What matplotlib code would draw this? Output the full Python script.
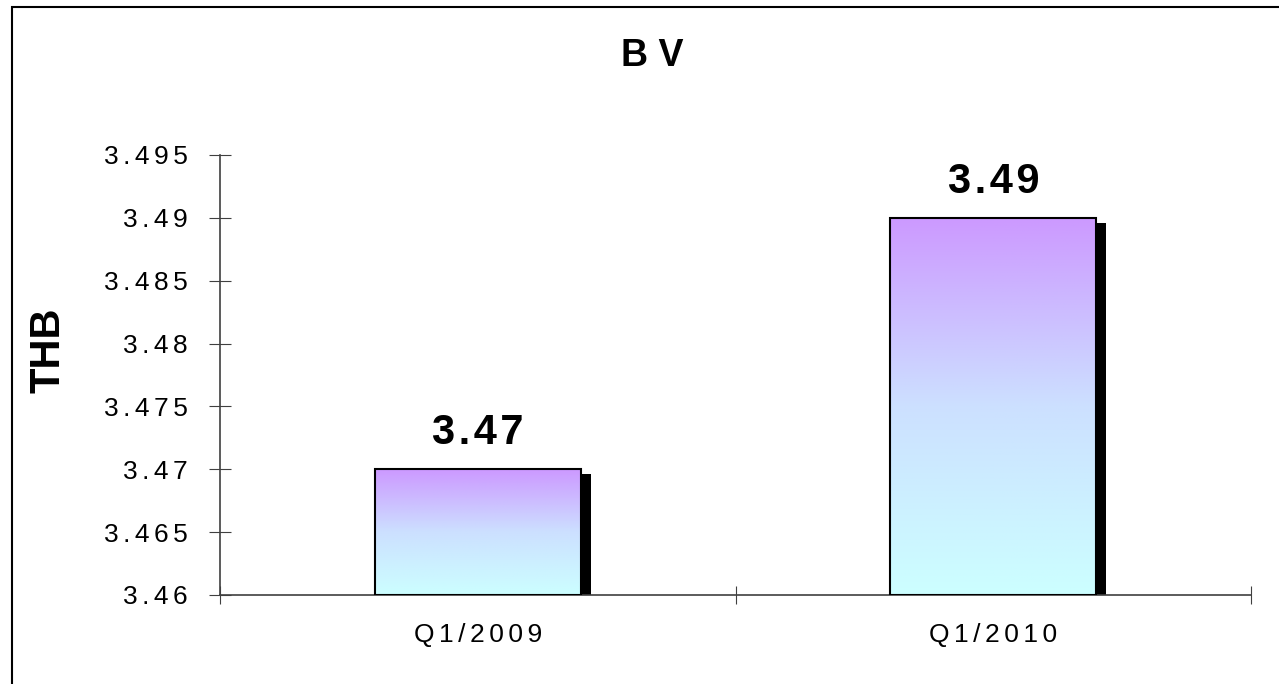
import numpy as np
import matplotlib.pyplot as plt
import matplotlib.transforms as mtransforms
from matplotlib.colors import LinearSegmentedColormap
from matplotlib.patches import Rectangle

plt.rcParams['font.family'] = ['Liberation Sans', 'DejaVu Sans']

categories = ['Q1/2009', 'Q1/2010']
values = [3.47, 3.49]
value_labels = ['3.47', '3.49']
y_ticks = [3.46, 3.465, 3.47, 3.475, 3.48, 3.485, 3.49, 3.495]
y_tick_labels = ['3.46', '3.465', '3.47', '3.475', '3.48', '3.485', '3.49', '3.495']

ymin, ymax = 3.46, 3.495
bar_w = 0.40


def spaced(s, sep='\u200a\u200a'):
    # old office charts draw text with a little letter spacing
    return sep.join(s)


fig = plt.figure(figsize=(12.79, 6.84), dpi=100)
ax = fig.add_axes([220 / 1279, 1 - 595 / 684, 1031 / 1279, 440 / 684])

grad = LinearSegmentedColormap.from_list('grad', ['#ccffff', '#cce0ff', '#cc99ff'])
shadow_tr = ax.transData + mtransforms.ScaledTranslation(10 / 100, -5 / 100, fig.dpi_scale_trans)

x = np.arange(len(categories))
for xi, v, lab in zip(x, values, value_labels):
    # shadow
    ax.bar(xi, v - ymin, bottom=ymin, width=bar_w, color='black', transform=shadow_tr, zorder=1)
    # gradient fill clipped to bar
    bars = ax.bar(xi, v - ymin, bottom=ymin, width=bar_w, facecolor='none',
                  edgecolor='black', linewidth=1.5, zorder=3)
    img = ax.imshow(np.linspace(0, 1, 256).reshape(-1, 1), cmap=grad, origin='lower',
                    extent=[xi - bar_w / 2, xi + bar_w / 2, ymin, v], aspect='auto', zorder=2)
    img.set_clip_path(bars[0])
    ax.text(xi, v + 0.002, spaced(lab, '\u200a'), ha='center', va='baseline',
            fontsize=30, fontweight='bold')

ax.set_xlim(-0.5, 1.5)
ax.set_ylim(ymin, ymax)
ax.set_xticks([-0.5, 0.5, 1.5])
ax.set_xticklabels([])
ax.set_xticks(x, minor=True)
ax.set_xticklabels([spaced(c) for c in categories], minor=True, fontsize=19)
ax.tick_params(axis='x', which='minor', length=0, pad=20)
ax.tick_params(axis='x', which='major', direction='inout', length=13, color='#404040')
ax.set_yticks(y_ticks)
ax.set_yticklabels([spaced(t) for t in y_tick_labels], fontsize=19)
ax.tick_params(axis='y', direction='inout', length=16, pad=15, color='#404040')

for s in ['top', 'right']:
    ax.spines[s].set_visible(False)
for s in ['left', 'bottom']:
    ax.spines[s].set_color('#404040')
    ax.spines[s].set_linewidth(1.2)

ax.set_ylabel('THB', fontsize=30, fontweight='bold')
ax.yaxis.set_label_coords((68 - 220) / 1031, (595 - 350) / 440)
fig.text(652 / 1279, 1 - 56 / 684, 'B V', ha='center', va='center', fontsize=27, fontweight='bold')

fig.patches.append(Rectangle((12 / 1279, -0.05), 1.1, 1 - 7 / 684 + 0.05, transform=fig.transFigure,
                             fill=False, edgecolor='black', linewidth=1.5))

fig.savefig('out.png', dpi=100)
